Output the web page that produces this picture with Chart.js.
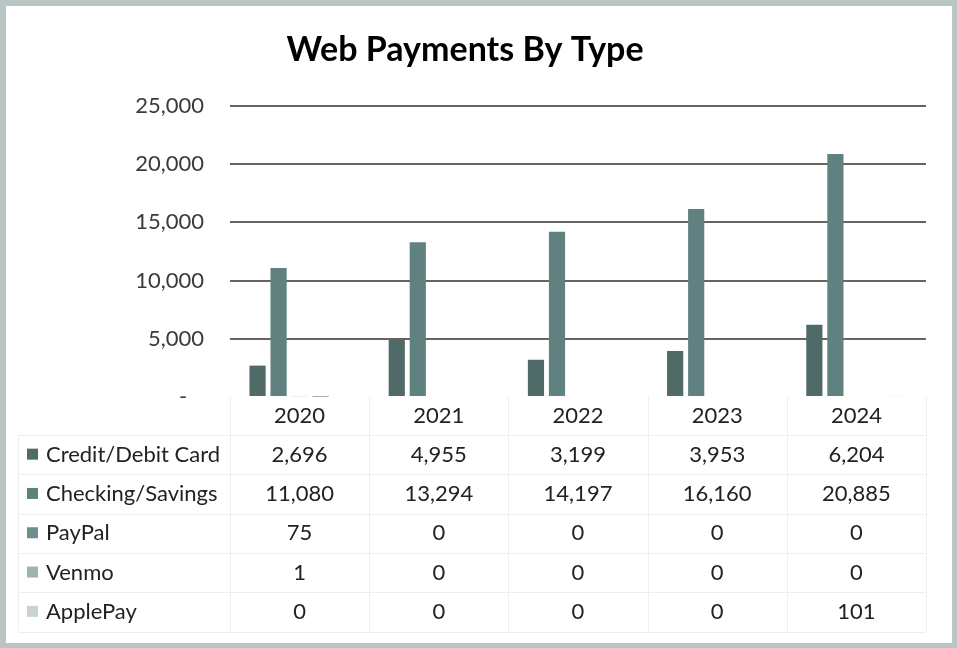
<!DOCTYPE html>
<html>
<head>
<meta charset="utf-8">
<title>Web Payments By Type</title>
<script src="https://cdn.jsdelivr.net/npm/chart.js@4.4.1/dist/chart.umd.min.js"></script>
<style>
  html, body { margin: 0; padding: 0; background: #fff; }
  #wrap { width: 957px; height: 648px; position: relative; }
</style>
</head>
<body>
<div id="wrap"><canvas id="paymentsChart" width="957" height="648"></canvas></div>
<script>
// Yearly web payment counts by type
const years = ['2020', '2021', '2022', '2023', '2024'];
const seriesNames = ['Credit/Debit Card', 'Checking/Savings', 'PayPal', 'Venmo', 'ApplePay'];
const creditDebit = [2696, 4955, 3199, 3953, 6204];
const checkingSavings = [11080, 13294, 14197, 16160, 20885];
const paypal = [75, 0, 0, 0, 0];
const venmo = [1, 0, 0, 0, 0];
const applePay = [0, 0, 0, 0, 101];
const yTicks = [0, 5000, 10000, 15000, 20000, 25000];

const seriesValues = [creditDebit, checkingSavings, paypal, venmo, applePay];
const seriesColors = ['#4f6a67', '#5f817f', '#6a8f8c', '#9fb3b1', '#c8d2d2'];

const fontFamily = 'Lato, "Open Sans", "Liberation Sans", sans-serif';
const textColor = '#222222';

function fmt(v) {
    return v.toLocaleString('en-US');
}

// Frame, title and the data table under the plot
const tablePlugin = {
    id: 'dataTable',
    beforeDraw(chart) {
        const ctx = chart.ctx;
        ctx.save();
        ctx.fillStyle = '#b9c6c6';
        ctx.fillRect(0, 0, chart.width, chart.height);
        ctx.fillStyle = '#ffffff';
        ctx.fillRect(6, 6, chart.width - 11, chart.height - 11);
        ctx.restore();
    },
    afterDraw(chart) {
        const ctx = chart.ctx;
        const area = chart.chartArea;
        const x = chart.scales.x;
        const colW = (area.right - area.left) / years.length;
        const headerTop = area.bottom;
        const headerH = 38;
        const rowH = 39.3;
        const labelLeft = 18;

        ctx.save();
        // title
        ctx.fillStyle = '#000';
        ctx.font = 'bold 34px ' + fontFamily;
        ctx.textAlign = 'center';
        ctx.textBaseline = 'middle';
        ctx.fillText('Web Payments By Type', 465, 50);

        // faint cell borders
        ctx.strokeStyle = '#eeeeee';
        ctx.lineWidth = 1;
        ctx.beginPath();
        for (let i = 0; i <= years.length; i++) {
            const lx = Math.round(area.left + i * colW) + 0.5;
            ctx.moveTo(lx, headerTop);
            ctx.lineTo(lx, headerTop + headerH + rowH * seriesNames.length);
        }
        ctx.moveTo(labelLeft + 0.5, headerTop + headerH);
        ctx.lineTo(labelLeft + 0.5, headerTop + headerH + rowH * seriesNames.length);
        for (let r = 0; r <= seriesNames.length; r++) {
            const ly = Math.round(headerTop + headerH + r * rowH) + 0.5;
            ctx.moveTo(labelLeft, ly);
            ctx.lineTo(area.right, ly);
        }
        ctx.stroke();

        ctx.font = '22px ' + fontFamily;
        ctx.fillStyle = textColor;
        ctx.textAlign = 'center';
        years.forEach((yr, i) => {
            ctx.fillText(yr, x.getPixelForValue(i), headerTop + headerH / 2);
        });

        seriesNames.forEach((name, r) => {
            const cy = headerTop + headerH + r * rowH + rowH / 2;
            ctx.fillStyle = seriesColors[r];
            ctx.fillRect(27, cy - 6, 11, 11);
            ctx.fillStyle = textColor;
            ctx.textAlign = 'left';
            ctx.fillText(name, 46, cy);
            ctx.textAlign = 'center';
            seriesValues[r].forEach((v, i) => {
                ctx.fillText(fmt(v), x.getPixelForValue(i), cy);
            });
        });
        ctx.restore();
    }
};

const ctx = document.getElementById('paymentsChart').getContext('2d');
const paymentsChart = new Chart(ctx, {
    type: 'bar',
    data: {
        labels: years,
        datasets: seriesNames.map((name, i) => ({
            label: name,
            data: seriesValues[i],
            backgroundColor: seriesColors[i],
            borderWidth: 0,
            categoryPercentage: 0.755,
            barPercentage: 0.77
        }))
    },
    options: {
        responsive: false,
        animation: false,
        layout: {
            padding: { top: 106, right: 31, bottom: 251, left: 0 }
        },
        plugins: {
            legend: { display: false },
            title: { display: false },
            tooltip: { enabled: false }
        },
        scales: {
            x: {
                display: false
            },
            y: {
                min: 0,
                max: 25000,
                afterBuildTicks(scale) {
                    scale.ticks = yTicks.map(v => ({ value: v }));
                },
                afterFit(scale) {
                    scale.width = 230;
                },
                border: { display: false },
                grid: {
                    color: ctx => ctx.tick && ctx.tick.value === 0 ? 'rgba(0,0,0,0)' : '#6b635e',
                    lineWidth: 2,
                    drawTicks: false
                },
                ticks: {
                    padding: 26,
                    color: '#3a3a3a',
                    font: { family: fontFamily, size: 22 },
                    // accounting style: zero shows as a dash set in from the right
                    callback: v => v === 0 ? '-   ' : fmt(v)
                }
            }
        }
    },
    plugins: [tablePlugin]
});
</script>
</body>
</html>
